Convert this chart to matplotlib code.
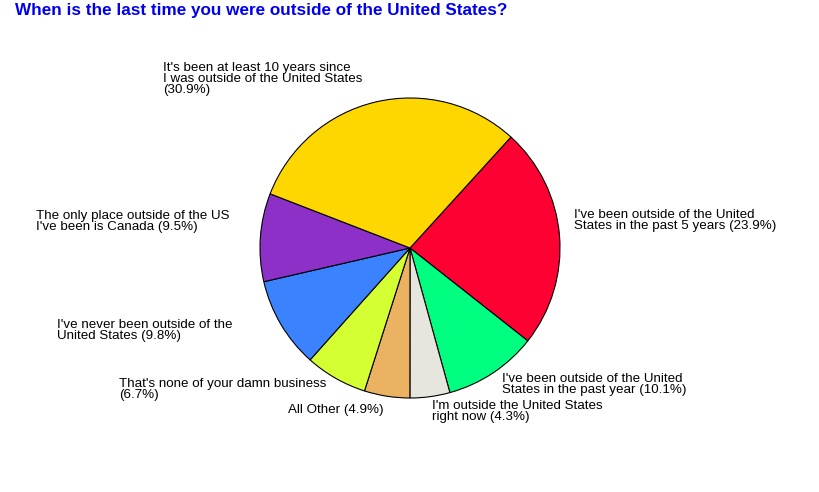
import matplotlib
matplotlib.use("Agg")
import matplotlib.pyplot as plt

## donnees du camembert (sens horaire a partir du rouge)
labels = [
    "I've been outside of the United\nStates in the past 5 years (23.9%)",
    "I've been outside of the United\nStates in the past year (10.1%)",
    "I'm outside the United States\nright now (4.3%)",
    "All Other (4.9%)",
    "That's none of your damn business\n(6.7%)",
    "I've never been outside of the\nUnited States (9.8%)",
    "The only place outside of the US\nI've been is Canada (9.5%)",
    "It's been at least 10 years since\nI was outside of the United States\n(30.9%)",
]
values = [23.9, 10.1, 4.3, 4.9, 6.7, 9.8, 9.5, 30.9]
colors = ["#FF0033", "#00FF80", "#E6E6DE", "#EBB262", "#D4FF33",
          "#3B82FF", "#8C30C8", "#FFD700"]

## positions des etiquettes (coin haut gauche, en pixels)
label_pos = [(574, 209), (502, 373), (432, 400), (288, 404),
             (119, 378), (57, 319), (36, 210), (163, 62)]

W, H = 820, 492
fig = plt.figure(figsize=(W / 100, H / 100), dpi=100)
ax = fig.add_axes([0, 0, 1, 1])

ax.pie(values, colors=colors, startangle=47.7, counterclock=False,
       center=(410, H - 248), radius=150, frame=True,
       wedgeprops=dict(edgecolor="black", linewidth=0.8))
ax.set_xlim(0, W)
ax.set_ylim(0, H)
ax.axis("off")

for txt, (px, py) in zip(labels, label_pos):
    ax.text(px, H - py, txt, ha="left", va="top", fontsize=9.6,
            family="Liberation Sans", linespacing=0.9, color="black")

fig.text(15 / W, 1 - 3 / H, "When is the last time you were outside of the United States?",
         ha="left", va="top", fontsize=12.3, fontweight="bold",
         family="Liberation Sans", color="#0000EE")

fig.savefig("out.png", dpi=100)
